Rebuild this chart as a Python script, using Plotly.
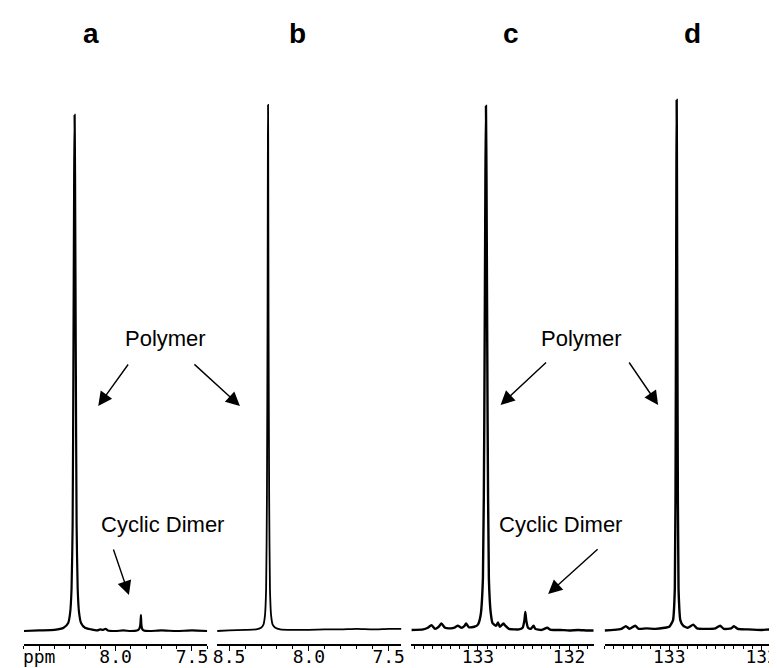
import plotly.graph_objects as go

W, H = 777, 668

# ---------------- data ----------------
# panel a : 1H, ppm
ppm_a = [8.600, 8.500, 8.400, 8.340, 8.310, 8.297, 8.288, 8.281, 8.276, 8.271, 8.268,
         8.265, 8.260, 8.255, 8.248, 8.239, 8.226, 8.200, 8.160, 8.120, 8.100, 8.085,
         8.065, 8.050, 8.000, 7.950, 7.900, 7.860, 7.845, 7.838, 7.834, 7.831, 7.826, 7.815,
         7.780, 7.700, 7.600, 7.500, 7.400]
int_a = [0.000, 0.001, 0.002, 0.006, 0.015, 0.035, 0.080, 0.200, 0.500, 0.850, 0.972,
         0.850, 0.500, 0.200, 0.080, 0.035, 0.015, 0.006, 0.003, 0.001, 0.003, 0.002,
         0.004, 0.001, 0.000, 0.001, 0.000, 0.001, 0.004, 0.012, 0.030, 0.012, 0.004, 0.001,
         0.000, 0.001, 0.000, 0.001, 0.000]

# panel b : 1H, ppm
ppm_b = [8.575, 8.500, 8.400, 8.330, 8.300, 8.285, 8.275, 8.268, 8.263, 8.259, 8.257, 8.256,
         8.255, 8.253, 8.249, 8.244, 8.237, 8.227, 8.210, 8.180, 8.100, 8.000, 7.900, 7.800,
         7.700, 7.600, 7.500, 7.420]
int_b = [0.000, 0.001, 0.002, 0.003, 0.006, 0.012, 0.030, 0.080, 0.250, 0.600, 0.920, 0.991,
         0.920, 0.600, 0.250, 0.080, 0.030, 0.012, 0.006, 0.003, 0.002, 0.002, 0.003, 0.003,
         0.004, 0.003, 0.004, 0.004]

# panel c : 13C, ppm
ppm_c = [133.73, 133.60, 133.55, 133.51, 133.47, 133.43, 133.40, 133.36, 133.30, 133.25,
         133.22, 133.18, 133.15, 133.13, 133.10, 133.04, 133.00, 132.97, 132.945, 132.93,
         132.918, 132.912, 132.906, 132.894, 132.88, 132.86, 132.84, 132.80, 132.78, 132.76,
         132.72, 132.70, 132.66, 132.60, 132.55, 132.51, 132.49, 132.48, 132.47, 132.45,
         132.42, 132.39, 132.37, 132.30, 132.24, 132.20, 132.10, 132.00, 131.90, 131.80, 131.73]
int_c = [0.002, 0.003, 0.006, 0.011, 0.004, 0.008, 0.014, 0.006, 0.005, 0.007,
         0.010, 0.006, 0.009, 0.014, 0.007, 0.008, 0.012, 0.030, 0.100, 0.400,
         0.850, 0.989, 0.850, 0.400, 0.100, 0.035, 0.015, 0.010, 0.016, 0.008,
         0.014, 0.010, 0.004, 0.003, 0.003, 0.006, 0.020, 0.036, 0.020, 0.006,
         0.004, 0.010, 0.004, 0.002, 0.006, 0.002, 0.002, 0.001, 0.002, 0.001, 0.001]

# panel d : 13C, ppm
ppm_d = [133.70, 133.60, 133.52, 133.47, 133.43, 133.37, 133.33, 133.25, 133.15, 133.05,
         133.00, 132.96, 132.94, 132.93, 132.923, 132.920, 132.917, 132.91, 132.90, 132.88,
         132.85, 132.80, 132.74, 132.70, 132.60, 132.50, 132.45, 132.41, 132.33, 132.30,
         132.26, 132.15, 132.00, 131.90, 131.78]
int_d = [0.001, 0.002, 0.004, 0.009, 0.004, 0.010, 0.004, 0.005, 0.004, 0.006,
         0.008, 0.020, 0.080, 0.400, 0.850, 1.000, 0.850, 0.400, 0.080, 0.020,
         0.010, 0.006, 0.012, 0.005, 0.004, 0.005, 0.010, 0.004, 0.005, 0.009,
         0.004, 0.003, 0.002, 0.003, 0.002]

panel_labels = ["a", "b", "c", "d"]
ticks_a = [8.5, 8.0, 7.5]
ticktext_a = ["ppm", "8.0", "7.5"]
ticks_b = [8.5, 8.0, 7.5]
ticktext_b = ["8.5", "8.0", "7.5"]
ticks_c = [133, 132]
ticktext_c = ["133", "132"]
ticks_d = [133, 132]
ticktext_d = ["133", "132"]
ranges = [[8.60, 7.40], [8.575, 7.42], [133.73, 131.73], [133.70, 131.78]]

# ---------------- layout helpers ----------------
def px(x):
    return x / W

def py(y):
    return 1 - y / H

domains = [[px(12), px(197)], [px(207), px(393)], [px(403), px(587)], [px(598), 1.0]]
ydom = [py(636), py(80)]
yrange = [-0.0245, 1.0226]

fig = go.Figure()
series = [(ppm_a, int_a), (ppm_b, int_b), (ppm_c, int_c), (ppm_d, int_d)]
tickspecs = [(ticks_a, ticktext_a), (ticks_b, ticktext_b), (ticks_c, ticktext_c), (ticks_d, ticktext_d)]
widths = [2.2, 1.8, 2.4, 2.4]

for i, (xs, ys) in enumerate(series):
    n = "" if i == 0 else str(i + 1)
    fig.add_trace(go.Scatter(x=xs, y=ys, mode="lines", xaxis="x" + n, yaxis="y" + n,
                             line=dict(color="black", width=widths[i], shape="spline", smoothing=0.5),
                             showlegend=False, hoverinfo="skip"))
    tv, tt = tickspecs[i]
    fig.update_layout(**{
        "xaxis" + n: dict(domain=domains[i], range=ranges[i], anchor="y" + n,
                          showgrid=False, zeroline=False, showline=True,
                          linecolor="black", linewidth=1.6,
                          ticks="outside", ticklen=5, tickwidth=1.4, tickcolor="black",
                          tickvals=tv, ticktext=tt, ticklabelstandoff=-9,
                          tickfont=dict(family="DejaVu Sans Mono", size=18, color="black"),
                          minor=dict(dtick=0.1, ticks="outside", ticklen=3, tickwidth=1,
                                     tickcolor="black", showgrid=False),
                          fixedrange=True),
        "yaxis" + n: dict(domain=ydom, range=yrange, anchor="x" + n, visible=False,
                          fixedrange=True),
    })

annotations = []
label_x = [80, 288, 504, 687]
for lx, lab in zip(label_x, panel_labels):
    annotations.append(dict(x=px(lx), y=py(25), xref="paper", yref="paper", text=lab,
                            showarrow=False, xanchor="center", yanchor="middle",
                            font=dict(family="Liberation Sans", size=28, color="black", weight="bold")))

text_font = dict(family="Liberation Sans, Arial", size=22, color="black")
for tx, ty, t in [(155, 330, "Polymer"), (575, 330, "Polymer"),
                  (152, 516, "Cyclic Dimer"), (553, 516, "Cyclic Dimer")]:
    annotations.append(dict(x=px(tx), y=py(ty), xref="paper", yref="paper", text=t,
                            showarrow=False, xanchor="center", yanchor="middle", font=text_font))

# arrows: (tail x, tail y, head x, head y) in pixels
arrows = [(118, 355, 87, 398), (183, 355, 230, 398),
          (540, 353, 493, 397), (622, 353, 652, 397),
          (102, 540, 118, 587), (592, 540, 541, 586)]
for tx, ty, hx, hy in arrows:
    annotations.append(dict(x=px(hx), y=py(hy), xref="paper", yref="paper", text="",
                            showarrow=True, ax=tx - hx, ay=ty - hy, axref="pixel", ayref="pixel",
                            arrowhead=2, arrowsize=2.0, arrowwidth=1.4, arrowcolor="black"))

fig.update_layout(width=W, height=H, margin=dict(l=0, r=0, t=0, b=0),
                  paper_bgcolor="white", plot_bgcolor="white",
                  annotations=annotations, showlegend=False)

fig.write_html("out.html")
